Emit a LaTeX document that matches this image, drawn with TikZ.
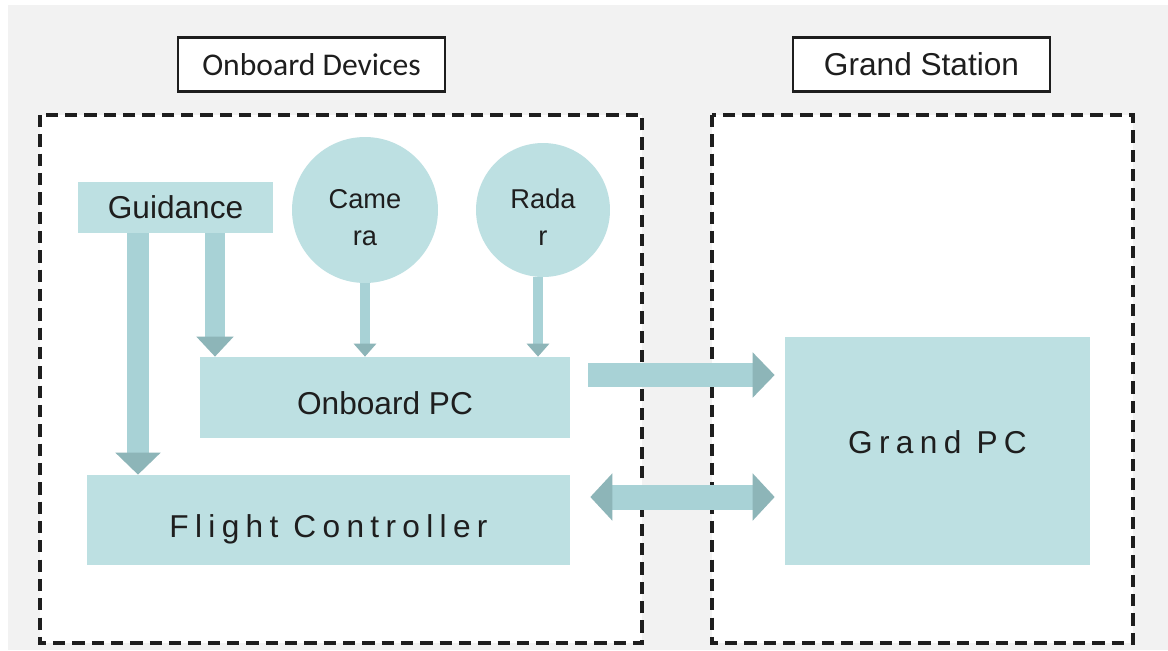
\documentclass[tikz,border=0pt]{standalone}
\usepackage{fontspec}
\setmainfont{Liberation Sans}
\newfontfamily\califont{Carlito}
\newfontfamily\spacedfont[LetterSpace=20]{Liberation Sans}
\usetikzlibrary{arrows.meta}
\definecolor{boxcol}{HTML}{BDE0E2}
\definecolor{shaftcol}{HTML}{A8D2D6}
\definecolor{tipcol}{HTML}{8DB5B8}
\definecolor{bgcol}{HTML}{F2F2F2}
\definecolor{txtcol}{HTML}{1E1E1E}
\begin{document}
\begin{tikzpicture}[x=0.02cm, y=-0.02cm]
  %
  \tikzstyle{blk} = [fill=boxcol, inner sep=0pt, text=txtcol, font={\fontsize{18}{21}\selectfont}]
  \tikzstyle{sens} = [blk, circle, align=center, font={\fontsize{15.5}{21}\selectfont}]
  \tikzstyle{lbl} = [draw=txtcol, line width=1.2pt, fill=white, minimum width=5.2cm, minimum height=1.08cm, text=txtcol, font={\fontsize{18}{21}\selectfont}]
  \tikzstyle{dbox} = [draw=txtcol, fill=white, line width=2pt, dash pattern=on 7pt off 4pt]
  \tikzstyle{fat} = [shaftcol, line width=0.44cm, -{Triangle[width=0.88cm, length=0.44cm, color=tipcol]}]
  \tikzstyle{thin} = [shaftcol, line width=0.2cm, -{Triangle[width=0.44cm, length=0.26cm, color=tipcol]}]
  %
  \useasboundingbox (0,0) rectangle (1168,650);
  \fill[white] (0,0) rectangle (1168,650);
  \fill[bgcol] (8,5) rectangle (1168,650);
  \draw[dbox] (40,115) rectangle (642,643);
  \draw[dbox] (712,115) rectangle (1133,643);
  %
  \node[lbl, minimum width=5.34cm] (obd) at (311.5,64.5) {\califont Onboard Devices};
  \node[lbl, minimum width=5.14cm] (gst) at (921.5,64.5) {Grand Station};
  %
  \node[blk, minimum width=3.9cm, minimum height=1.02cm] (gd) at (175.5,207.5) {Guidance};
  \node[sens, minimum size=2.92cm] (cam) at (365,210) {\rule{0pt}{19pt}Came\\ra};
  \node[sens, minimum size=2.68cm] (rad) at (543,210) {\rule{0pt}{19pt}Rada\\r};
  \node[blk, minimum width=7.4cm, minimum height=1.62cm, text height=19.6pt, text depth=0pt] (opc) at (385,397.5) {Onboard PC};
  \node[blk, minimum width=9.66cm, minimum height=1.8cm, text height=23.4pt, text depth=3.8pt] (fc) at (328.5,520) {\spacedfont Flight Controller};
  \node[blk, minimum width=6.1cm, minimum height=4.56cm, text height=13pt, text depth=10.4pt] (gpc) at (937.5,451) {\spacedfont Grand PC};
  %
  \draw[fat] ([xshift=-0.75cm]gd.south) -- ([xshift=-0.75cm]gd.south |- fc.north);
  \draw[fat, line width=0.4cm, -{Triangle[width=0.72cm, length=0.4cm, color=tipcol]}] ([xshift=0.79cm]gd.south) -- ([xshift=0.79cm]gd.south |- opc.north);
  \draw[thin] (cam.south) -- (cam.south |- opc.north);
  \draw[thin] ([xshift=-0.1cm]rad.south) -- ([xshift=-0.1cm]rad.south |- opc.north);
  %
  \draw[fat, line width=0.48cm, shorten <=0.36cm, shorten >=0.2cm] ([yshift=0.45cm]opc.east) -- ([yshift=0.45cm]opc.east -| gpc.west);
  \draw[fat, line width=0.5cm, shorten <=0.4cm, shorten >=0.2cm, {Triangle[width=0.92cm, length=0.44cm, color=tipcol]}-{Triangle[width=0.92cm, length=0.44cm, color=tipcol]}] ([yshift=0.46cm]fc.east) -- ([yshift=0.46cm]fc.east -| gpc.west);
\end{tikzpicture}
\end{document}
